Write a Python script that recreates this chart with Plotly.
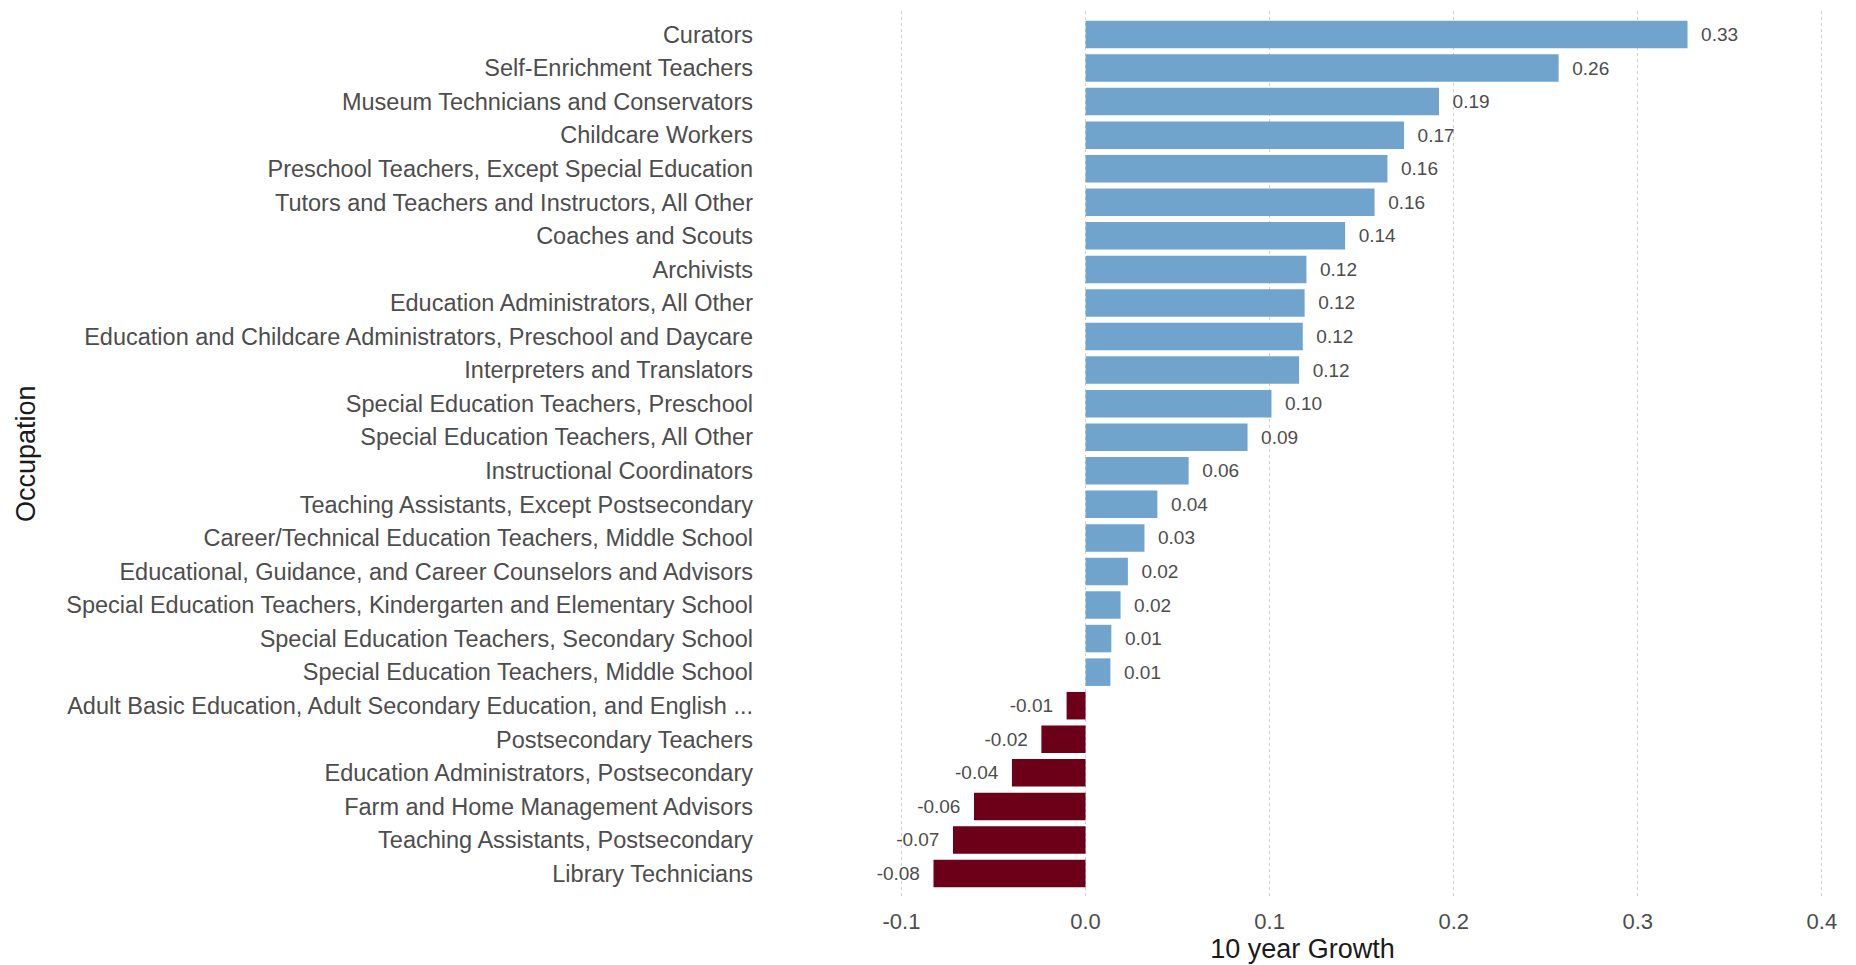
import plotly.graph_objects as go

occupations = [
    "Curators",
    "Self-Enrichment Teachers",
    "Museum Technicians and Conservators",
    "Childcare Workers",
    "Preschool Teachers, Except Special Education",
    "Tutors and Teachers and Instructors, All Other",
    "Coaches and Scouts",
    "Archivists",
    "Education Administrators, All Other",
    "Education and Childcare Administrators, Preschool and Daycare",
    "Interpreters and Translators",
    "Special Education Teachers, Preschool",
    "Special Education Teachers, All Other",
    "Instructional Coordinators",
    "Teaching Assistants, Except Postsecondary",
    "Career/Technical Education Teachers, Middle School",
    "Educational, Guidance, and Career Counselors and Advisors",
    "Special Education Teachers, Kindergarten and Elementary School",
    "Special Education Teachers, Secondary School",
    "Special Education Teachers, Middle School",
    "Adult Basic Education, Adult Secondary Education, and English ...",
    "Postsecondary Teachers",
    "Education Administrators, Postsecondary",
    "Farm and Home Management Advisors",
    "Teaching Assistants, Postsecondary",
    "Library Technicians",
]
growth = [0.327, 0.257, 0.192, 0.173, 0.164, 0.157, 0.141, 0.120, 0.119, 0.118,
          0.116, 0.101, 0.088, 0.056, 0.039, 0.032, 0.023, 0.019, 0.014, 0.0135,
          -0.0103, -0.024, -0.040, -0.0606, -0.072, -0.0826]
x_ticks = [-0.1, 0.0, 0.1, 0.2, 0.3, 0.4]
x_tick_labels = ["-0.1", "0.0", "0.1", "0.2", "0.3", "0.4"]

POS = "#71a4cc"
NEG = "#6b0018"
FONT = "Liberation Sans, Arial, sans-serif"
colors = [POS if v >= 0 else NEG for v in growth]
labels = [("\u00a0\u00a0" + f"{v:.2f}") if v >= 0 else (f"{v:.2f}" + "\u00a0\u00a0") for v in growth]

# page body has an 8px default margin; compensate
L, R, T, B = 767, 26, 3, 68
W, H = 1848, 957

fig = go.Figure(go.Bar(
    x=growth, y=occupations, orientation="h",
    marker=dict(color=colors, line=dict(width=0)),
    text=labels, textposition="outside", cliponaxis=False,
    constraintext="none",
    textfont=dict(family=FONT, size=19, color="#4d4d4d"),
    width=0.82,
))

fig.update_layout(
    width=W, height=H,
    margin=dict(l=L, r=R, t=T, b=B, autoexpand=False),
    plot_bgcolor="white", paper_bgcolor="white",
    font=dict(family=FONT, color="#4d4d4d"),
    showlegend=False,
    annotations=[dict(
        text="Occupation", textangle=-90,
        xref="paper", yref="paper",
        x=(18 - L) / (W - L - R), y=0.5,
        xanchor="center", yanchor="middle", showarrow=False,
        font=dict(family=FONT, size=27, color="#1a1a1a"),
    )],
)
fig.update_xaxes(
    range=[-0.1687, 0.4044], automargin=False,
    tickvals=x_ticks, ticktext=x_tick_labels,
    showgrid=True, gridcolor="#d0d0d0", griddash="dot", gridwidth=1,
    zeroline=False, showline=False, ticks="",
    tickfont=dict(size=22, color="#4d4d4d"),
    ticklabelstandoff=9,
    title=dict(text="10 year Growth", font=dict(size=27, color="#1a1a1a"), standoff=5),
)
fig.update_yaxes(
    type="category", categoryorder="array", categoryarray=occupations,
    range=[25.7, -0.7], automargin=False,
    showgrid=False, zeroline=False, showline=False, ticks="",
    tickfont=dict(size=23.5, color="#4d4d4d"),
    ticklabelstandoff=21,
)
fig.write_html("out.html")
